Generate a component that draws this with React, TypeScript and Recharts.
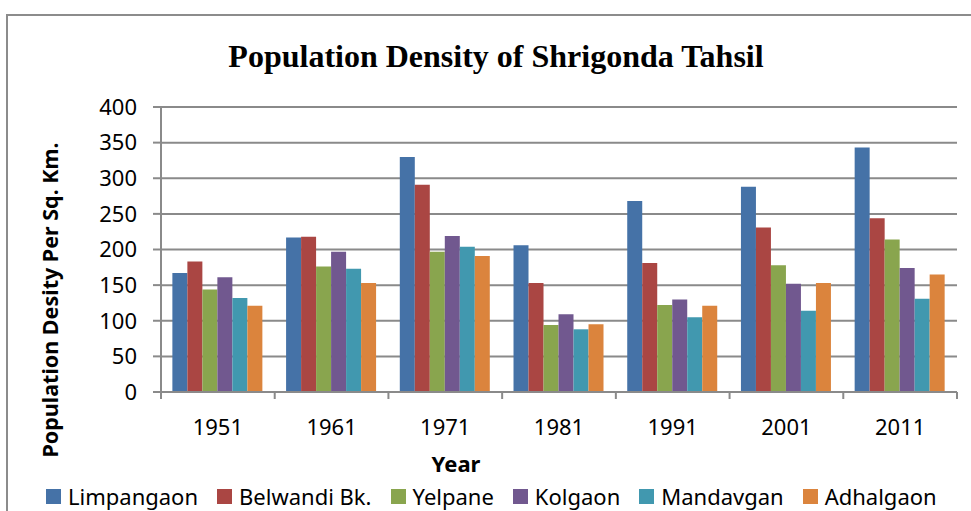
import React from 'react';
import { BarChart, Bar, XAxis, YAxis, CartesianGrid, Legend } from 'recharts';

const years = ['1951', '1961', '1971', '1981', '1991', '2001', '2011'];
const limpangaon = [167, 217, 330, 206, 268, 288, 343];
const belwandi = [183, 218, 291, 153, 181, 231, 244];
const yelpane = [144, 176, 197, 94, 122, 178, 214];
const kolgaon = [161, 197, 219, 109, 130, 152, 174];
const mandavgan = [132, 173, 204, 88, 105, 114, 131];
const adhalgaon = [121, 153, 191, 95, 121, 153, 165];
const yTicks = [0, 50, 100, 150, 200, 250, 300, 350, 400];

const seriesNames = ['Limpangaon', 'Belwandi Bk.', 'Yelpane', 'Kolgaon', 'Mandavgan', 'Adhalgaon'];
const seriesKeys = ['limpangaon', 'belwandi', 'yelpane', 'kolgaon', 'mandavgan', 'adhalgaon'];
const seriesColors = ['#4572A7', '#AA4643', '#89A54E', '#71588F', '#4198AF', '#DB843D'];
const seriesValues = [limpangaon, belwandi, yelpane, kolgaon, mandavgan, adhalgaon];

const data = years.map((y, i) => {
  const row: any = { year: y };
  seriesKeys.forEach((k, s) => { row[k] = seriesValues[s][i]; });
  return row;
});

const W = 971;
const H = 511;
const M = { top: 107, right: 14, bottom: 35, left: 0 };
const Y_AXIS_W = 161;
const PLOT_W = W - M.left - M.right - Y_AXIS_W;
const HALF_BAND = PLOT_W / years.length / 2;
const GRID = '#8a8a8a';
const FONT = '"Noto Sans", "Open Sans", sans-serif';

const XTick = (props: any) => {
  const { x, y, payload, index } = props;
  const last = index === years.length - 1;
  return (
    <g>
      <line x1={x - HALF_BAND} y1={y} x2={x - HALF_BAND} y2={y + 7} stroke={GRID} strokeWidth={2} />
      {last && <line x1={x + HALF_BAND} y1={y} x2={x + HALF_BAND} y2={y + 7} stroke={GRID} strokeWidth={2} />}
      <text x={x} y={y + 43} textAnchor="middle" fontSize={22} fontFamily={FONT} fill="#000">{payload.value}</text>
    </g>
  );
};

const LegendContent = () => (
  <div style={{ display: 'flex', justifyContent: 'flex-start', paddingLeft: 46, alignItems: 'center', height: 24, fontFamily: FONT, fontSize: 22, color: '#000' }}>
    {seriesNames.map((n, i) => (
      <div key={n} style={{ display: 'flex', alignItems: 'center', marginRight: i < seriesNames.length - 1 ? 19 : 0 }}>
        <span style={{ display: 'inline-block', width: 15, height: 15, background: seriesColors[i], marginRight: 7 }} />
        <span style={{ lineHeight: '24px', whiteSpace: 'nowrap' }}>{n}</span>
      </div>
    ))}
  </div>
);

export default function App() {
  return (
    <div style={{ position: 'absolute', left: 0, top: 0, width: W, height: H, background: '#fff', overflow: 'hidden' }}>
      <div style={{ position: 'absolute', left: 6, top: 14, width: W, height: H, borderTop: '2px solid #8c8c8c', borderLeft: '2px solid #8c8c8c' }} />
      <div style={{ position: 'absolute', left: 0, width: 992, top: 36, textAlign: 'center', fontFamily: '"Liberation Serif", "Times New Roman", serif', fontWeight: 'bold', fontSize: 32, color: '#000', lineHeight: '40px' }}>
        Population Density of Shrigonda Tahsil
      </div>
      <div style={{ position: 'absolute', left: 49, top: 300, transform: 'translate(-50%, -50%) rotate(-90deg)', whiteSpace: 'nowrap', fontFamily: FONT, fontWeight: 'bold', fontSize: 21.5, color: '#000' }}>
        Population Desity Per Sq. Km.
      </div>
      <div style={{ position: 'absolute', left: 456, top: 463, transform: 'translate(-50%, -50%)', fontFamily: FONT, fontWeight: 'bold', fontSize: 22, color: '#000' }}>
        Year
      </div>
      <BarChart width={W} height={H} data={data} margin={M} barCategoryGap="10%" barGap={0}>
        <CartesianGrid vertical={false} stroke={GRID} strokeWidth={2} />
        <XAxis dataKey="year" height={60} tickSize={0} tickMargin={0} tickLine={false} axisLine={{ stroke: GRID, strokeWidth: 2 }} tick={<XTick />} interval={0} />
        <YAxis width={Y_AXIS_W} domain={[0, 400]} ticks={yTicks} tickSize={8} tickMargin={16} tickLine={{ stroke: GRID, strokeWidth: 2 }} axisLine={{ stroke: GRID, strokeWidth: 2 }} tick={{ fontSize: 22, fontFamily: FONT, fill: '#000' }} />
        <Legend verticalAlign="bottom" content={<LegendContent />} wrapperStyle={{ left: 0, width: W, top: 484, bottom: 'auto' }} />
        {seriesKeys.map((k, i) => (
          <Bar key={k} dataKey={k} name={seriesNames[i]} fill={seriesColors[i]} isAnimationActive={false} />
        ))}
      </BarChart>
    </div>
  );
}
